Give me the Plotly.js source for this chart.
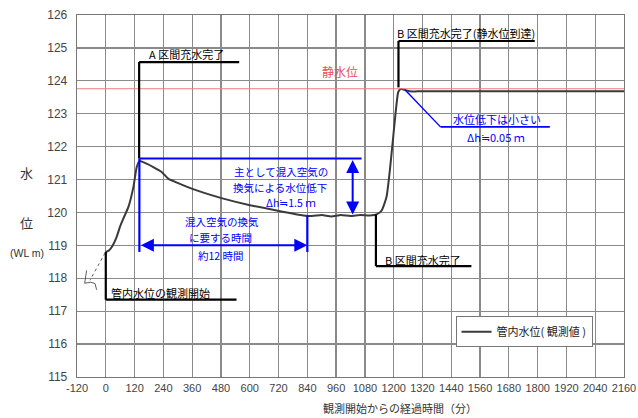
<!DOCTYPE html>
<html><head><meta charset="utf-8">
<script src="https://cdn.plot.ly/plotly-3.0.1.min.js"></script>
<style>html,body{margin:0;padding:0;background:#fff}#chart{width:638px;height:418px}</style>
</head><body><div id="chart"></div>
<script>
// elapsed time since start of observation (min)
const elapsedMin = [0, 12, 25, 45, 59, 73, 94, 115, 129, 140, 156, 198, 233, 260, 309, 379, 490, 601, 712, 823, 860, 900, 940, 980, 1020, 1060, 1100, 1129, 1150, 1170, 1184, 1198, 1209, 1219, 1229, 1254, 1268, 1300, 2160];
// water level in pipe (WL m), observed
const waterLevel = [118.80, 118.84, 118.95, 119.25, 119.56, 119.81, 120.16, 120.77, 121.38, 121.56, 121.53, 121.38, 121.23, 121.03, 120.87, 120.67, 120.42, 120.22, 120.06, 119.91, 119.89, 119.92, 119.88, 119.92, 119.89, 119.92, 119.91, 119.94, 120.06, 120.47, 121.28, 122.29, 123.10, 123.66, 123.75, 123.71, 123.68, 123.68, 123.68];
const staticLevel = 123.76;
const xTickVals = [-120,0,120,240,360,480,600,720,840,960,1080,1200,1320,1440,1560,1680,1800,1920,2040,2160];
const xTickText = ['-120','0','120','240','360','480','600','720','840','960','1080','1200','1320','1440','1560','1680','1800','1920','2040','2160'];
const yTickVals = [115,116,117,118,119,120,121,122,123,124,125,126];
const seriesName = '管内水位( 観測値 )';

const jp = '"Noto Sans CJK JP", "Noto Sans", sans-serif';
const blue = '#0000ff';
const black = '#000000';

function seg(x0,y0,x1,y1,color,width,dash){
  return {type:'line',xref:'x',yref:'y',x0:x0,y0:y0,x1:x1,y1:y1,line:{color:color,width:width,dash:dash||'solid'}};
}
function txt(x,y,text,color,size,opts){
  return Object.assign({x:x,y:y,xref:'x',yref:'y',text:text,showarrow:false,
    font:{family:jp,size:size,color:color},xanchor:'center',yanchor:'middle'},opts||{});
}

const shapes = [
  // static water level
  {type:'line',xref:'paper',yref:'y',x0:0,x1:1,y0:staticLevel,y1:staticLevel,line:{color:'#f08080',width:1}},
  // A section
  seg(139,121.64,139,124.57,black,2.2), seg(139,124.57,556,124.57,black,2.2),
  // B section (static level)
  seg(1220,123.8,1220,125.21,black,2.2), seg(1220,125.21,1788,125.21,black,2.2),
  // observation start
  seg(0,118.8,0,117.35,black,2.2), seg(0,117.35,545,117.35,black,2.2),
  // B section lower
  seg(1126,119.94,1126,118.37,black,2.2), seg(1126,118.37,1524,118.37,black,2.2),
  // dashed extrapolation and break mark
  seg(-3,118.77,-66,117.94,'#333',0.8,'dot'),
  {type:'path',xref:'x',yref:'y',path:'M -80,118.24 L -88,117.85 L -63,117.88 L -45,117.84 L -38,117.65',line:{color:'#333',width:0.8}},
  // blue: top horizontal
  seg(140,121.64,1066,121.64,blue,2.2),
  // blue verticals
  seg(140,121.64,140,118.8,blue,2.2),
  seg(840,119.91,840,118.8,blue,2.2),
  // small drop leader
  seg(1247,123.73,1395,122.6,blue,1.4), seg(1395,122.6,1851,122.6,blue,1.8)
];

const annotations = [
  txt(338,124.81,'A 区間充水完了',black,11),
  txt(1501,125.44,'B 区間充水完了(静水位到達)',black,11),
  txt(976,124.27,'静水位','#e8505a',12),
  txt(1632,122.83,'水位低下は小さい',blue,11),
  txt(1625,122.29,'Δh≒0.05 ｍ',blue,11),
  txt(730,121.24,'主として混入空気の',blue,10.5),
  txt(726,120.76,'換気による水位低下',blue,10.5),
  txt(772,120.29,'Δh≒1.5 ｍ',blue,10.5),
  txt(486,119.73,'混入空気の換気',blue,10.5),
  txt(480,119.25,'に要する時間',blue,10.5),
  txt(480,118.68,'約12 時間',blue,10.5),
  txt(230,117.56,'管内水位の観測開始',black,11),
  txt(1322,118.55,'B 区間充水完了',black,11),
  // double arrows
  {x:1029,y:119.94,ax:1029,ay:121.64,xref:'x',yref:'y',axref:'x',ayref:'y',text:'',showarrow:true,
   arrowhead:2,startarrowhead:2,arrowside:'end+start',arrowsize:1.3,startarrowsize:1.3,arrowwidth:2,arrowcolor:blue,standoff:0,startstandoff:0},
  {x:840,y:119.0,ax:140,ay:119.0,xref:'x',yref:'y',axref:'x',ayref:'y',text:'',showarrow:true,
   arrowhead:2,startarrowhead:2,arrowside:'end+start',arrowsize:1.3,startarrowsize:1.3,arrowwidth:2,arrowcolor:blue,standoff:0,startstandoff:0},
  // y-axis title pieces
  {x:-0.092,y:121.2,xref:'paper',yref:'y',xanchor:'center',yanchor:'middle',text:'水',showarrow:false,font:{family:jp,size:13,color:'#333'}},
  {x:-0.092,y:119.71,xref:'paper',yref:'y',xanchor:'center',yanchor:'middle',text:'位',showarrow:false,font:{family:jp,size:13,color:'#333'}},
  {x:-0.0914,y:118.77,xref:'paper',yref:'y',xanchor:'center',yanchor:'middle',text:'(WL m)',showarrow:false,font:{family:'"Liberation Sans", Arial, sans-serif',size:10.5,color:'#333'}},
  // x-axis title
  {x:0.5905,y:-0.086,xref:'paper',yref:'paper',xanchor:'center',yanchor:'middle',text:'観測開始からの経過時間（分）',showarrow:false,font:{family:jp,size:11,color:'#333'}}
];

const trace = {x:elapsedMin,y:waterLevel,type:'scatter',mode:'lines',name:seriesName,
  line:{color:'#3a3a3a',width:2,shape:'spline',smoothing:0.5}};

const layout = {
  width:638,height:418,
  margin:{l:77,r:14,t:15,b:41},
  paper_bgcolor:'#fff',plot_bgcolor:'#fff',
  showlegend:true,
  legend:{x:0.692,y:0.168,xanchor:'left',yanchor:'top',bordercolor:'#777',borderwidth:1,bgcolor:'#fff',
    font:{family:jp,size:11,color:'#222'},tracegroupgap:0},
  xaxis:{range:[-120,2160],tickmode:'array',tickvals:xTickVals,ticktext:xTickText,
    showgrid:true,gridcolor:'#8a8a8a',gridwidth:1.3,zeroline:false,
    showline:true,linecolor:'#777',linewidth:1.3,mirror:true,ticks:'',
    tickfont:{family:'"Liberation Sans Narrow","Liberation Sans",Arial,sans-serif',size:11,color:'#444'}},
  yaxis:{range:[115,126],tickmode:'array',tickvals:yTickVals,
    showgrid:true,gridcolor:'#8a8a8a',gridwidth:1.3,zeroline:false,
    showline:true,linecolor:'#777',linewidth:1.3,mirror:true,ticks:'',ticklabelstandoff:6,
    tickfont:{family:'"Liberation Sans",Arial,sans-serif',size:12,color:'#444'}},
  shapes:shapes,annotations:annotations
};

Plotly.newPlot('chart',[trace],layout,{displayModeBar:false,staticPlot:true});
</script></body></html>
